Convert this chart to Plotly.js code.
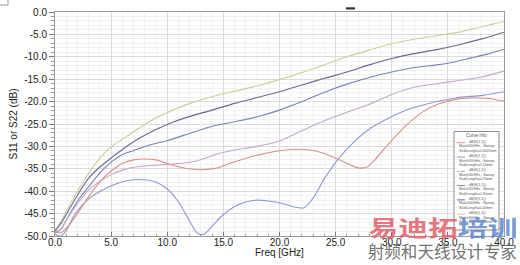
<!DOCTYPE html>
<html><head><meta charset="utf-8">
<script src="https://cdn.plot.ly/plotly-3.0.1.min.js"></script>
<style>html,body{margin:0;padding:0;background:#fff;} #chart{width:520px;height:265px;}</style>
</head><body><div id="chart"></div>
<script>
// ---- data ----
const freqGold = [0,0.5,1,2,3,4,5,6,7.5,9,10.5,12,14,16,18,20,22,24,26,28,30,32,34,36,38,40];
const dbGold   = [-48.7,-46.8,-44.5,-40.0,-36.0,-32.6,-30.1,-28.4,-25.9,-23.6,-21.9,-20.4,-18.9,-17.7,-16.5,-15.1,-13.5,-11.8,-10.0,-8.5,-7.1,-6.1,-5.3,-4.5,-3.3,-2.1];

const freqNavy = [0,0.5,1,2,3,4,5,6,7.5,9,10.5,12,14,16,18,20,22,24,26,28,30,32,34,36,38,40];
const dbNavy   = [-48.9,-47.3,-45.2,-40.9,-37.1,-34.6,-32.6,-30.7,-28.2,-26.2,-24.6,-23.3,-21.9,-20.4,-19.1,-17.8,-16.3,-14.8,-13.4,-11.8,-10.4,-9.3,-8.4,-7.3,-6.0,-4.5];

const freqSteel = [0,0.5,1,2,3,4,5,6,7,8.3,10,12,14,16,18,20,22,24,26,28,30,32,34,35.5,37,38.5,40];
const dbSteel   = [-49.2,-48.5,-46.5,-42.2,-39.0,-35.9,-33.5,-31.8,-30.9,-29.8,-28.7,-27.1,-25.5,-24.5,-23.4,-21.9,-20.0,-17.9,-16.1,-14.6,-13.4,-12.4,-11.8,-11.2,-10.3,-9.4,-8.3];

const freqPurple = [0,0.5,1,2,3,4,5,6,7.5,9,10.7,12.5,14.3,16,18,20,22,24,26,28,30,32,34,36,38,40];
const dbPurple   = [-49.4,-48.6,-46.5,-42.8,-39.7,-37.8,-36.3,-35.3,-34.5,-34.2,-33.9,-33.3,-31.8,-30.8,-30.0,-28.8,-26.5,-24.3,-22.4,-20.6,-18.4,-16.8,-16.0,-15.3,-14.5,-13.2];

const freqBlue = [0,0.5,1,1.8,3,4.5,6,7.4,8.9,10,11,12,12.7,13.3,14,15,16,17,18,19,20.2,21.5,22.2,23,24,25.3,26.8,28.2,29.8,31.3,32.7,35.7,38.1,40];
const dbBlue   = [-49.6,-50.0,-48.8,-45.0,-41.7,-39.4,-37.9,-37.4,-37.9,-39.5,-42.4,-46.7,-49.4,-49.6,-47.8,-45.2,-43.4,-42.4,-42.0,-42.2,-42.7,-43.6,-43.7,-41.5,-37.2,-32.6,-28.6,-25.8,-23.6,-21.9,-20.8,-19.2,-18.6,-17.8];

const freqRed = [0,0.5,1,2,3,4,5,6,7,8,9,10,11.3,12.8,14.3,15.8,17.5,19,21,22.7,24,25.5,27,27.8,28.6,29.8,31.3,32.7,34.2,35.7,37.2,38.7,40];
const dbRed   = [-49.0,-49.3,-48.3,-45.0,-41.2,-37.9,-35.5,-33.8,-33.0,-32.8,-33.0,-33.8,-34.7,-35.2,-34.9,-33.6,-32.3,-31.4,-30.7,-30.8,-31.6,-33.2,-34.8,-34.6,-32.7,-29.2,-25.3,-22.4,-20.5,-19.5,-19.2,-19.3,-19.9];

const stubLengths = ['0.0001mm','0.10mm','0.20mm','0.30mm','0.40mm','0.50mm'];
const seriesColors = ['#dc8f88','#8c98d0','#c0a8cc','#7783b2','#686894','#cfcc98'];
const seriesFreq = [freqRed, freqBlue, freqPurple, freqSteel, freqNavy, freqGold];
const seriesDb   = [dbRed, dbBlue, dbPurple, dbSteel, dbNavy, dbGold];

const xTickVals = [0,5,10,15,20,25,30,35,40];
const xTickText = ['0.0','5.0','10.0','15.0','20.0','25.0','30.0','35.0','40.0'];
const yTickVals = [0,-5,-10,-15,-20,-25,-30,-35,-40,-45,-50];
const yTickText = ['0.0','-5.0','-10.0','-15.0','-20.0','-25.0','-30.0','-35.0','-40.0','-45.0','-50.0'];

// ---- layout helpers (pixel -> paper) ----
const L = 55, T = 12, W = 449, H = 224;
const px = v => (v - L) / W;
const py = v => 1 - (v - T) / H;

const traces = [];
for (let i = seriesFreq.length - 1; i >= 0; i--) {
  traces.push({
    x: seriesFreq[i], y: seriesDb[i], type: 'scatter', mode: 'lines',
    line: {color: seriesColors[i], width: 1.1, shape: 'spline', smoothing: 0.8},
    hoverinfo: 'skip', showlegend: false
  });
}

const axisFont = {family:'Liberation Sans, Arial, sans-serif', size:10, color:'#222'};
const shapes = [];
const annotations = [];
// x axis title
annotations.push({xref:'paper', yref:'paper', x:px(279), y:py(252), text:'Freq [GHz]', showarrow:false,
  font:axisFont, xanchor:'center', yanchor:'middle'});
// legend box
shapes.push({type:'rect', xref:'paper', yref:'paper', x0:px(454), x1:px(499), y0:py(230), y1:py(131.5),
  fillcolor:'#ffffff', line:{color:'#8a8a8a', width:1}, layer:'above'});
annotations.push({xref:'paper', yref:'paper', x:px(476.5), y:py(135.5), text:'Curve Info', showarrow:false,
  font:{family:'Liberation Sans, Arial', size:4.5, color:'#555'}, xanchor:'center', yanchor:'middle'});
for (let k = 0; k < stubLengths.length; k++) {
  const y0 = 141.7 + 14.3 * k;
  shapes.push({type:'line', xref:'paper', yref:'paper', x0:px(457), x1:px(465), y0:py(y0+1), y1:py(y0+1),
    line:{color:seriesColors[k], width:1}, layer:'above'});
  annotations.push({xref:'paper', yref:'paper', x:px(467), y:py(y0), text:'dB(S(1,1))', showarrow:false,
    font:{family:'Liberation Sans, Arial', size:3.6, color:'#555'}, xanchor:'left', yanchor:'middle'});
  annotations.push({xref:'paper', yref:'paper', x:px(457), y:py(y0+4.6), text:'Match30GHz - Sweep', showarrow:false,
    font:{family:'Liberation Sans, Arial', size:3.6, color:'#555'}, xanchor:'left', yanchor:'middle'});
  annotations.push({xref:'paper', yref:'paper', x:px(457), y:py(y0+9), text:'StubLength=' + stubLengths[k], showarrow:false,
    font:{family:'Liberation Sans, Arial', size:3.6, color:'#555'}, xanchor:'left', yanchor:'middle'});
}
// small marks outside the plot
shapes.push({type:'rect', xref:'paper', yref:'paper', x0:px(346), x1:px(355), y0:py(9.5), y1:py(7.3),
  fillcolor:'#333', line:{width:0}});
shapes.push({type:'line', xref:'paper', yref:'paper', x0:px(0), x1:px(8), y0:py(5), y1:py(5), line:{color:'#999', width:1}});
shapes.push({type:'line', xref:'paper', yref:'paper', x0:px(8), x1:px(8), y0:py(0), y1:py(5), line:{color:'#999', width:1}});

// watermark
annotations.push({xref:'paper', yref:'paper', x:px(442.5), y:py(226), showarrow:false, xanchor:'center', yanchor:'middle',
  text:'<span style="color:rgba(225,95,105,0.85)">易迪拓</span><span style="color:rgba(95,135,205,0.85)">培训</span>',
  font:{family:'Noto Sans CJK SC', size:22, weight:700}});
annotations.push({xref:'paper', yref:'paper', x:px(442.5), y:py(250.5), showarrow:false, xanchor:'center', yanchor:'middle',
  text:'射频和天线设计专家', font:{family:'Noto Sans CJK SC', size:16.5, color:'rgba(95,95,95,0.9)'}});

const layout = {
  width:520, height:265,
  margin:{l:L, r:520-L-W, t:T, b:265-T-H, pad:0},
  paper_bgcolor:'#fff', plot_bgcolor:'#fff',
  xaxis:{range:[0,40], tickvals:xTickVals, ticktext:xTickText, ticks:'inside', ticklen:4, tickcolor:'#777',
    showline:true, linecolor:'#9a9a9a', mirror:true, gridcolor:'#dcdcdc', zeroline:false, tickfont:axisFont,
    ticklabelstandoff:-3,
    minor:{dtick:1, ticks:'inside', ticklen:2, tickcolor:'#999', showgrid:true, gridcolor:'#f1f1f1'}},
  yaxis:{range:[-50,0], tickvals:yTickVals, ticktext:yTickText, ticks:'outside', ticklen:5, tickcolor:'#777',
    showline:true, linecolor:'#9a9a9a', mirror:true, gridcolor:'#dcdcdc', zeroline:false, tickfont:axisFont,
    minor:{dtick:1, ticks:'outside', ticklen:3, tickcolor:'#999', showgrid:true, gridcolor:'#f1f1f1'},
    title:{text:'S11 or S22 (dB)', font:axisFont, standoff:4}},
  shapes:shapes, annotations:annotations, showlegend:false
};

Plotly.newPlot('chart', traces, layout, {staticPlot:true, displayModeBar:false}).then(() => {
  document.querySelectorAll('.annotation-text').forEach(t => {
    const s = t.textContent;
    if (s === '易迪拓培训' || s === '射频和天线设计专家') {
      t.setAttribute('textLength','149'); t.setAttribute('lengthAdjust','spacingAndGlyphs');
    }
  });
});
</script>
</body></html>
